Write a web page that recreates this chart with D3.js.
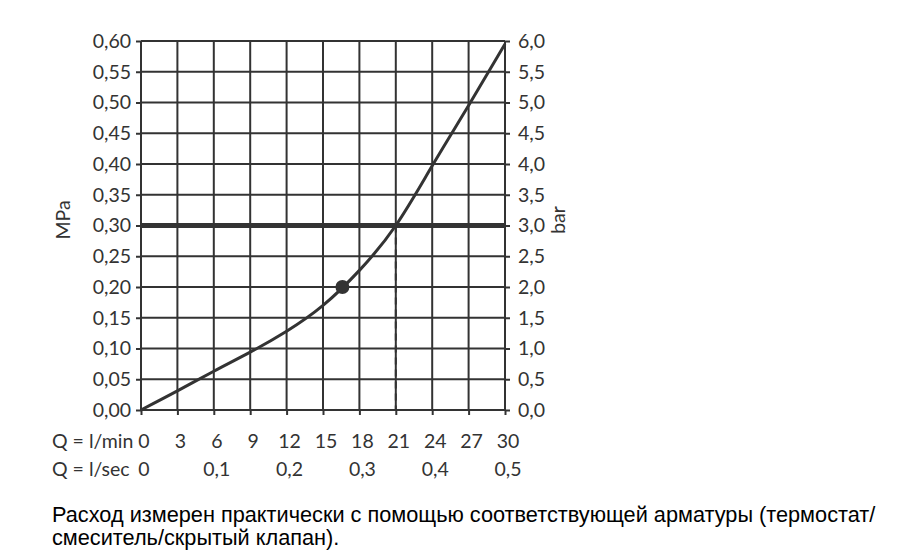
<!DOCTYPE html>
<html><head><meta charset="utf-8">
<script src="https://cdn.jsdelivr.net/npm/d3@7"></script>
<style>body{margin:0;background:#fff}svg{display:block}</style>
</head><body>
<svg id="c" width="912" height="551"></svg>
<script>
const flowLmin = [0, 3, 6, 9, 12, 15, 18, 21, 24, 27, 30];
const pressureMPa = [0, 0.031, 0.063, 0.094, 0.128, 0.170, 0.227, 0.300, 0.397, 0.495, 0.595];
const markerPoint = {q: 16.6, p: 0.20};
const refPressure = 0.30;
const refFlow = 21;
const xTicksLmin = [0, 3, 6, 9, 12, 15, 18, 21, 24, 27, 30];
const xTicksLsec = [0, 0.1, 0.2, 0.3, 0.4, 0.5];
const yTicksMPa = [0, 0.05, 0.10, 0.15, 0.20, 0.25, 0.30, 0.35, 0.40, 0.45, 0.50, 0.55, 0.60];
const yTicksBar = [0, 0.5, 1.0, 1.5, 2.0, 2.5, 3.0, 3.5, 4.0, 4.5, 5.0, 5.5, 6.0];
const caption = ["Расход измерен практически с помощью соответствующей арматуры (термостат/", "смеситель/скрытый клапан)."];

const svg = d3.select("#c");
const L = 141, R = 505, T = 41, B = 410;
const x = d3.scaleLinear().domain([0, 30]).range([L, R]);
const xs = d3.scaleLinear().domain([0, 0.5]).range([L, R]);
const y = d3.scaleLinear().domain([0, 0.6]).range([B, T]);
const yb = d3.scaleLinear().domain([0, 6]).range([B, T]);
const col = "#333";
const fmt2 = d => d.toFixed(2).replace(".", ",");
const fmt1 = d => d.toFixed(1).replace(".", ",");
const tickFont = "Lato, 'Open Sans', sans-serif";

// grid
const g = svg.append("g");
g.selectAll("line.v").data(xTicksLmin).join("line")
  .attr("x1", d => x(d)).attr("x2", d => x(d)).attr("y1", T).attr("y2", B)
  .attr("stroke", col).attr("stroke-width", 2);
g.selectAll("line.h").data(yTicksMPa).join("line")
  .attr("x1", L).attr("x2", R).attr("y1", d => y(d)).attr("y2", d => y(d))
  .attr("stroke", col).attr("stroke-width", 2);

// axes
const ax = d3.axisBottom(x).tickValues(xTicksLmin).tickSize(5).tickFormat("");
svg.append("g").attr("transform", `translate(0,${B})`).call(ax)
  .call(s => s.select(".domain").remove())
  .call(s => s.selectAll("line").attr("stroke", col).attr("stroke-width", 2));
const ayl = d3.axisLeft(y).tickValues(yTicksMPa).tickSize(5).tickPadding(5).tickFormat(fmt2);
svg.append("g").attr("transform", `translate(${L},0)`).call(ayl)
  .call(s => s.select(".domain").remove())
  .call(s => s.selectAll("line").attr("stroke", col).attr("stroke-width", 2))
  .call(s => s.selectAll("text").attr("fill", col).attr("font-family", tickFont).attr("font-size", 19.5));
const ayr = d3.axisRight(yb).tickValues(yTicksBar).tickSize(5).tickPadding(8).tickFormat(fmt1);
svg.append("g").attr("transform", `translate(${R},0)`).call(ayr)
  .call(s => s.select(".domain").remove())
  .call(s => s.selectAll("line").attr("stroke", col).attr("stroke-width", 2))
  .call(s => s.selectAll("text").attr("fill", col).attr("font-family", tickFont).attr("font-size", 19.5));

// bottom labels
const lab = svg.append("g").attr("fill", col).attr("font-family", tickFont).attr("font-size", 19.5);
lab.selectAll("text.m").data(xTicksLmin).join("text")
  .attr("x", d => x(d) + 3).attr("y", 448).attr("text-anchor", "middle").text(d => d);
lab.selectAll("text.s").data(xTicksLsec).join("text")
  .attr("x", d => xs(d) + 3).attr("y", 476).attr("text-anchor", "middle").text(d => d === 0 ? "0" : String(d).replace(".", ","));
lab.append("text").attr("x", 52).attr("y", 448).text("Q = l/min");
lab.append("text").attr("x", 52).attr("y", 476).text("Q = l/sec");
lab.append("text").attr("transform", "translate(70,220) rotate(-90)").attr("text-anchor", "middle").text("MPa");
lab.append("text").attr("transform", "translate(565,220) rotate(-90)").attr("text-anchor", "middle").text("bar");

// reference lines
svg.append("line").attr("x1", L).attr("x2", R).attr("y1", y(refPressure)).attr("y2", y(refPressure))
  .attr("stroke", col).attr("stroke-width", 5);
svg.append("line").attr("x1", x(refFlow)).attr("x2", x(refFlow)).attr("y1", y(refPressure)).attr("y2", B)
  .attr("stroke", col).attr("stroke-width", 2).attr("stroke-dasharray", "7,5");

// curve
const line = d3.line().x((d, i) => x(flowLmin[i])).y(d => y(d)).curve(d3.curveNatural);
svg.append("path").attr("d", line(pressureMPa)).attr("fill", "none")
  .attr("stroke", col).attr("stroke-width", 3);
svg.append("circle").attr("cx", x(markerPoint.q)).attr("cy", y(markerPoint.p)).attr("r", 7).attr("fill", col);

// caption
const cap = svg.append("g").selectAll("text").data(caption).join("text")
  .attr("x", 52).attr("y", (d, i) => 522 + i * 23)
  .attr("font-family", "'Liberation Sans', Arial, sans-serif").attr("font-size", 20).attr("fill", "#000")
  .text(d => d);
const w0 = cap.node().getComputedTextLength();
cap.attr("font-size", 20 * 824 / w0);
</script>
</body></html>
